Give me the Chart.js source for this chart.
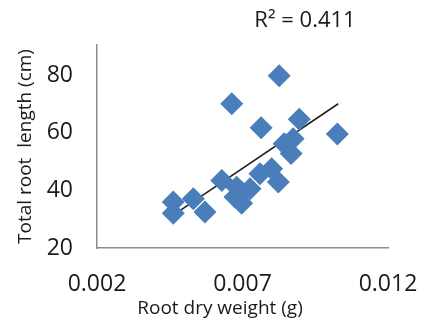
<!DOCTYPE html>
<html>
<head>
<meta charset="utf-8">
<script src="https://cdn.jsdelivr.net/npm/chart.js@4"></script>
<style>
  body { margin: 0; background: #fff; }
</style>
</head>
<body>
<canvas id="grafico" width="421" height="328"></canvas>
<script>
// === DATA ===
const rootWeight = [0.00826, 0.00663, 0.00895, 0.00764, 0.01026, 0.00843, 0.00867, 0.00874,
  0.0080, 0.0076, 0.00823, 0.00629, 0.0068, 0.00697, 0.00726, 0.00674, 0.00697,
  0.00531, 0.00571, 0.00462, 0.00462];
const rootLength = [79.8, 70.1, 64.7, 61.8, 59.6, 56.2, 52.8, 57.9,
  47.5, 45.8, 42.9, 43.4, 41.1, 39.4, 40.6, 37.7, 35.5,
  37.1, 32.5, 36.0, 32.1];
const trendX = [0.00462, 0.01029];
const trendY = [31.4, 70.1];
const xTicks = [0.002, 0.007, 0.012];
const yTicks = [20, 40, 60, 80];
const r2Label = "R\u00b2 = 0.411";
const xTitle = "Root dry weight (g)";
const yTitle = "Total root  length (cm)";

const FONT = "'Open Sans', sans-serif";
const axisColor = "#8c8c8c";
const textColor = "#1a1a1a";

// === extra text: R² label and x title ===
const textPlugin = {
  id: "texts",
  afterDraw(chart) {
    const ctx = chart.ctx;
    ctx.save();
    ctx.fillStyle = textColor;
    ctx.textAlign = "center";
    ctx.textBaseline = "middle";
    ctx.font = "22px " + FONT;
    ctx.fillText(r2Label, 305, 21);
    ctx.font = "19px " + FONT;
    ctx.fillText(xTitle, 220, 309);
    ctx.restore();
  }
};

new Chart(document.getElementById("grafico"), {
  type: "scatter",
  data: {
    datasets: [
      {
        label: "Length",
        data: rootWeight.map((x, i) => ({ x, y: rootLength[i] })),
        pointStyle: "rectRot",
        pointRadius: 11.5,
        pointHoverRadius: 11.5,
        backgroundColor: "#4A7EBB",
        borderColor: "#4A7EBB",
        borderWidth: 0
      },
      {
        label: "Trend",
        type: "line",
        data: trendX.map((x, i) => ({ x, y: trendY[i] })),
        borderColor: "#222",
        borderWidth: 1.6,
        pointRadius: 0,
        fill: false
      }
    ]
  },
  options: {
    responsive: false,
    animation: false,
    layout: { padding: { top: 45, right: 33, left: 0, bottom: 0 } },
    plugins: {
      legend: { display: false },
      tooltip: { enabled: false }
    },
    scales: {
      x: {
        type: "linear",
        min: 0.002,
        max: 0.012,
        grid: { display: false, drawTicks: true, tickLength: 23 },
        border: { display: true, color: axisColor, width: 1.5 },
        afterBuildTicks: s => { s.ticks = xTicks.map(v => ({ value: v })); },
        afterFit: s => { s.height = 80; },
        ticks: {
          padding: 0,
          color: textColor,
          font: { family: FONT, size: 23 },
          callback: v => v.toFixed(3)
        }
      },
      y: {
        min: 20,
        max: 90.5,
        grid: { display: false, drawTicks: true, tickLength: 24 },
        border: { display: true, color: axisColor, width: 1.5 },
        afterBuildTicks: s => { s.ticks = yTicks.map(v => ({ value: v })); },
        afterFit: s => { s.width = 97; },
        ticks: {
          padding: 0,
          color: textColor,
          font: { family: FONT, size: 23 }
        },
        title: {
          display: true,
          text: yTitle,
          color: textColor,
          font: { family: FONT, size: 19 },
          padding: { top: 14 }
        }
      }
    }
  },
  plugins: [textPlugin]
});
</script>
</body>
</html>
